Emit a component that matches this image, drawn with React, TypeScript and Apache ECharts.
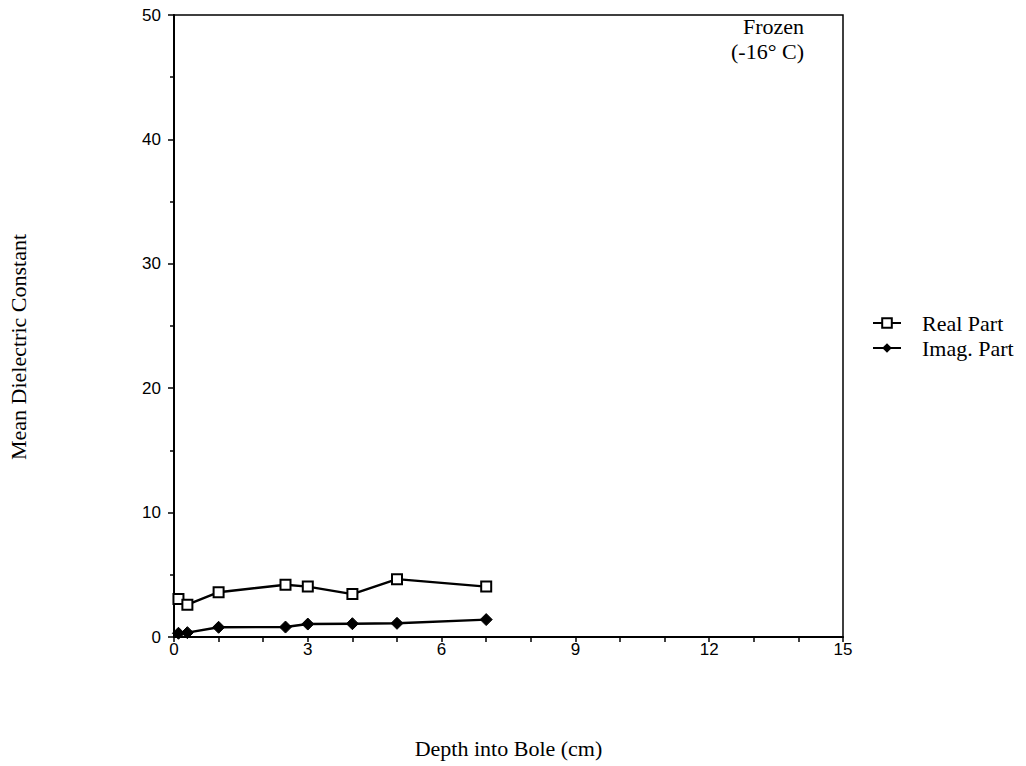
import React, { useEffect, useRef } from "react";
import * as echarts from "echarts";

const depthReal = [0.1, 0.3, 1, 2.5, 3, 4, 5, 7];
const realPart = [3.05, 2.6, 3.6, 4.2, 4.05, 3.45, 4.65, 4.05];
const depthImag = [0.1, 0.3, 1, 2.5, 3, 4, 5, 7];
const imagPart = [0.3, 0.35, 0.78, 0.8, 1.04, 1.07, 1.1, 1.4];
const xTicks = [0, 3, 6, 9, 12, 15];
const yTicks = [0, 10, 20, 30, 40, 50];

const serif = "'Liberation Serif', 'DejaVu Serif', serif";
const sans = "'Liberation Sans', Arial, sans-serif";

export default function App() {
  const ref = useRef<HTMLDivElement>(null);
  useEffect(() => {
    if (!ref.current) return;
    const chart = echarts.init(ref.current, null, { renderer: "svg" });
    chart.setOption({
      animation: false,
      backgroundColor: "#ffffff",
      grid: {
        left: 174,
        right: 1026 - 843,
        top: 15,
        bottom: 766 - 637,
        show: true,
        borderColor: "#000",
        borderWidth: 1.5,
        backgroundColor: "transparent",
      },
      legend: {
        orient: "vertical",
        left: 867,
        top: 307,
        itemGap: 3,
        itemWidth: 28,
        itemHeight: 12,
        textStyle: {
          fontFamily: serif,
          fontSize: 22,
          lineHeight: 22,
          color: "#000",
          padding: [0, 0, 0, 16],
        },
        data: ["Real Part", "Imag. Part"],
      },
      xAxis: {
        type: "value",
        min: xTicks[0],
        max: xTicks[xTicks.length - 1],
        interval: 3,
        name: "Depth into Bole (cm)",
        nameLocation: "middle",
        nameGap: 100,
        nameTextStyle: { fontFamily: serif, fontSize: 22, color: "#000" },
        axisLine: { lineStyle: { color: "#000", width: 2 } },
        axisTick: { show: true, inside: false, length: 5, lineStyle: { color: "#000", width: 1.5 } },
        minorTick: { show: true, splitNumber: 3, length: 5, lineStyle: { color: "#000", width: 1.5 } },
        axisLabel: {
          fontFamily: sans,
          fontSize: 17,
          color: "#000",
          margin: 4,
          formatter: (v: number) => (xTicks.includes(v) ? String(v) : ""),
        },
        splitLine: { show: false },
      },
      yAxis: {
        type: "value",
        min: yTicks[0],
        max: yTicks[yTicks.length - 1],
        interval: 10,
        axisLine: { lineStyle: { color: "#000", width: 2 } },
        axisTick: { show: true, inside: false, length: 6, lineStyle: { color: "#000", width: 1.5 } },
        minorTick: { show: true, splitNumber: 2, length: 4, lineStyle: { color: "#000", width: 1.5 } },
        axisLabel: {
          fontFamily: sans,
          fontSize: 17,
          color: "#000",
          margin: 13,
          formatter: (v: number) => (yTicks.includes(v) ? String(v) : ""),
        },
        splitLine: { show: false },
      },
      graphic: [
        {
          type: "text",
          x: 804,
          y: 14,
          style: {
            text: "Frozen\n(-16° C)",
            fontFamily: serif,
            fontSize: 22,
            lineHeight: 25,
            fill: "#000",
            align: "right",
            verticalAlign: "top",
          },
        },
        {
          type: "text",
          x: 18,
          y: 347,
          rotation: Math.PI / 2,
          style: {
            text: "Mean Dielectric Constant",
            fontFamily: serif,
            fontSize: 22,
            fill: "#000",
            align: "center",
            verticalAlign: "middle",
          },
        },
      ],
      series: [
        {
          name: "Real Part",
          type: "line",
          data: depthReal.map((d, i) => [d, realPart[i]]),
          symbol: "rect",
          symbolSize: 10,
          itemStyle: { color: "#fff", borderColor: "#000", borderWidth: 2 },
          lineStyle: { color: "#000", width: 2.4 },
        },
        {
          name: "Imag. Part",
          type: "line",
          data: depthImag.map((d, i) => [d, imagPart[i]]),
          symbol: "diamond",
          symbolSize: 12,
          itemStyle: { color: "#000", borderColor: "#000" },
          lineStyle: { color: "#000", width: 2.4 },
        },
      ],
    });
    return () => chart.dispose();
  }, []);
  return <div ref={ref} style={{ width: 1026, height: 766, position: "absolute", left: 0, top: 0 }} />;
}
